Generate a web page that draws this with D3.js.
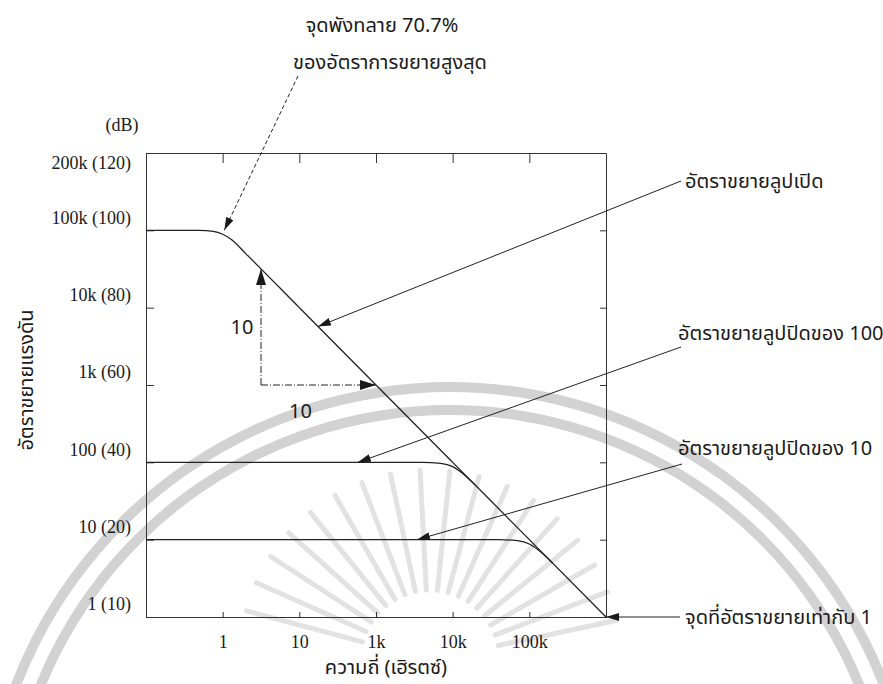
<!DOCTYPE html>
<html>
<head>
<meta charset="utf-8">
<script src="https://cdn.jsdelivr.net/npm/d3@7"></script>
<style>
  html, body { margin: 0; padding: 0; background: #fff; }
  svg { display: block; }
  .num { font-family: "Liberation Serif", "DejaVu Serif", serif; font-size: 18px; fill: #1a1a1a; }
  .th  { font-family: "Noto Sans Thai", "Loma", "Garuda", "Norasi", "DejaVu Sans", sans-serif; font-size: 20px; fill: #1a1a1a; }
  .axis path, .axis line { stroke: #333; stroke-width: 1; }
</style>
</head>
<body>
<svg id="chart" width="883" height="684"></svg>
<script>
// Axis ticks (frequency positions are one decade apart)
const xTicks = [1, 10, 100, 1000, 10000];
const xTickLabels = ["1", "10", "1k", "10k", "100k"];
const yTicks = [1, 10, 100, 1000, 10000, 100000, 1000000];
const yTickLabels = ["1 (10)", "10 (20)", "100 (40)", "1k (60)", "10k (80)", "100k (100)", "200k (120)"];

// Open-loop gain curve
const openLoopFreq = [0.1, 0.5, 0.75, 1, 1.3, 2, 10, 100, 1000, 10000, 100000];
const openLoopGain = [100000, 100000, 97000, 89000, 76000, 50000, 10000, 1000, 100, 10, 1];

// Closed-loop gain of 100
const closed100Freq = [0.1, 400, 700, 1000, 1300, 2000];
const closed100Gain = [100, 100, 97, 88, 74, 50];

// Closed-loop gain of 10
const closed10Freq = [0.1, 4000, 7000, 10000, 13000, 20000];
const closed10Gain = [10, 10, 9.7, 8.8, 7.4, 5];

// Slope triangle: one decade in frequency, one decade in gain
const slopeFreq = [Math.sqrt(10), 100];
const slopeGain = [1000, 31600];
const slopeLabels = ["10", "10"];

// Callouts: label lines and the (frequency, gain) point each arrow points to
const calloutText = [
  ["จุดพังทลาย 70.7%", "ของอัตราการขยายสูงสุด"],
  ["อัตราขยายลูปเปิด"],
  ["อัตราขยายลูปปิดของ 100"],
  ["อัตราขยายลูปปิดของ 10"],
  ["จุดที่อัตราขยายเท่ากับ 1"]
];
const calloutFreq = [1.05, 17.5, 58, 343, 100000];
const calloutGain = [100000, 5700, 100, 10, 1];

const xTitle = "ความถี่ (เฮิรตซ์)";
const yTitle = "อัตราขยายแรงดัน";
const yUnit = "(dB)";

const W = 883, H = 684;
const margin = { top: 153, right: 277, bottom: 67, left: 146 };
const svg = d3.select("#chart");

const x = d3.scaleLog().domain([0.1, 100000]).range([margin.left, W - margin.right]);
const y = d3.scaleLog().domain([1, 1000000]).range([H - margin.bottom, margin.top]);

// Faint background seal: two arcs and a ring of rays
const seal = svg.append("g").attr("fill", "none");
const arcCx = 450, arcCy = 852;
[465, 442].forEach(r => {
  seal.append("path")
    .attr("d", d3.arc().innerRadius(r - 5).outerRadius(r + 5).startAngle(-Math.PI * 0.4).endAngle(Math.PI * 0.4)())
    .attr("transform", `translate(${arcCx},${arcCy})`)
    .attr("fill", "#d2d2d2");
});
const rayCx = 430, rayCy = 660;
d3.range(-165, -10, 9).forEach(a => {
  const t = a * Math.PI / 180;
  seal.append("line")
    .attr("x1", rayCx + 70 * Math.cos(t)).attr("y1", rayCy + 70 * Math.sin(t))
    .attr("x2", rayCx + 190 * Math.cos(t)).attr("y2", rayCy + 190 * Math.sin(t))
    .attr("stroke-width", 5).attr("stroke-linecap", "round").attr("stroke", "#e2e2e2");
});

// Arrowhead markers
const defs = svg.append("defs");
function marker(id, len, wid) {
  defs.append("marker")
    .attr("id", id).attr("markerUnits", "userSpaceOnUse")
    .attr("viewBox", `0 0 ${len} ${wid}`)
    .attr("markerWidth", len).attr("markerHeight", wid)
    .attr("refX", len).attr("refY", wid / 2)
    .attr("orient", "auto")
    .append("path").attr("d", `M0,0L${len},${wid / 2}L0,${wid}Z`).attr("fill", "#1a1a1a");
}
marker("tip", 13, 8);
marker("tipBig", 16, 10);

// Axes forming the frame
svg.append("g").attr("class", "axis num")
  .attr("transform", `translate(0,${H - margin.bottom})`)
  .call(d3.axisBottom(x).tickValues(xTicks).tickFormat((d, i) => xTickLabels[i])
    .tickSizeInner(-5).tickSizeOuter(0).tickPadding(18))
  .call(g => g.selectAll("text").attr("class", "num").attr("fill", null));

svg.append("g").attr("class", "axis")
  .attr("transform", `translate(0,${margin.top})`)
  .call(d3.axisTop(x).tickValues(xTicks).tickFormat("").tickSizeInner(-10).tickSizeOuter(0));

svg.append("g").attr("class", "axis")
  .attr("transform", `translate(${margin.left},0)`)
  .call(d3.axisLeft(y).tickValues(yTicks).tickFormat((d, i) => yTickLabels[i])
    .tickSizeInner(-8).tickSizeOuter(0).tickPadding(15))
  .call(g => g.selectAll("text").attr("class", "num").attr("fill", null)
    .attr("dy", (d, i) => i === yTicks.length - 1 ? "0.85em" : "-0.4em"));

svg.append("g").attr("class", "axis")
  .attr("transform", `translate(${W - margin.right},0)`)
  .call(d3.axisRight(y).tickValues(yTicks).tickFormat("").tickSizeInner(-6).tickSizeOuter(0));

// Titles
svg.append("text").attr("class", "num").attr("x", 122).attr("y", 131)
  .attr("text-anchor", "middle").text(yUnit);
svg.append("text").attr("class", "th").attr("font-size", 21).attr("text-anchor", "middle")
  .attr("transform", `translate(33,380) rotate(-90)`).text(yTitle);
svg.append("text").attr("class", "th").attr("font-size", 17).attr("text-anchor", "middle")
  .attr("x", 386).attr("y", 674).text(xTitle);

// Gain curves
const line = d3.line().x(d => x(d[0])).y(d => y(d[1])).curve(d3.curveMonotoneX);
const curves = [
  d3.zip(openLoopFreq, openLoopGain),
  d3.zip(closed100Freq, closed100Gain),
  d3.zip(closed10Freq, closed10Gain)
];
svg.append("g").selectAll("path").data(curves).join("path")
  .attr("d", line).attr("fill", "none").attr("stroke", "#222").attr("stroke-width", 1.3);

// Slope triangle (dash-dot)
const sx0 = x(slopeFreq[0]), sx1 = x(slopeFreq[1]);
const sy0 = y(slopeGain[0]), sy1 = y(slopeGain[1]);
const tri = svg.append("g").attr("stroke", "#222").attr("stroke-width", 1)
  .attr("stroke-dasharray", "7,2,1,2").attr("fill", "none");
tri.append("line").attr("x1", sx0).attr("y1", sy0).attr("x2", sx0).attr("y2", sy1)
  .attr("marker-end", "url(#tipBig)");
tri.append("line").attr("x1", sx0).attr("y1", sy0).attr("x2", sx1).attr("y2", sy0)
  .attr("marker-end", "url(#tipBig)");
svg.append("text").attr("class", "th").attr("font-size", 16).attr("text-anchor", "middle")
  .attr("x", sx0 - 19).attr("y", (sy0 + sy1) / 2 + 7).text(slopeLabels[0]);
svg.append("text").attr("class", "th").attr("font-size", 16).attr("text-anchor", "middle")
  .attr("x", (sx0 + sx1) / 2 - 18).attr("y", sy0 + 33).text(slopeLabels[1]);

// Callout layout: where each label sits, the width it spans, and where its leader line starts
const calloutLayout = [
  { lines: [[382, 32], [390, 69]], anchor: "middle", size: 17, from: [298, 76], dash: "4,2.5" },
  { lines: [[685, 188]], anchor: "start", size: 20, fit: 140, from: [681, 181] },
  { lines: [[678, 340]], anchor: "start", size: 20, fit: 200, from: [681, 347] },
  { lines: [[678, 455]], anchor: "start", size: 20, fit: 190, from: [682, 464] },
  { lines: [[685, 624]], anchor: "start", size: 20, fit: 194, from: [680, 617] }
];
calloutText.forEach((txt, i) => {
  const L = calloutLayout[i];
  svg.append("line")
    .attr("x1", L.from[0]).attr("y1", L.from[1])
    .attr("x2", x(calloutFreq[i])).attr("y2", y(calloutGain[i]))
    .attr("stroke", "#222").attr("stroke-width", 1)
    .attr("stroke-dasharray", L.dash || null)
    .attr("marker-end", "url(#tip)");
  txt.forEach((t, j) => {
    const el = svg.append("text").attr("class", "th").attr("font-size", L.size).attr("text-anchor", L.anchor)
      .attr("x", L.lines[j][0]).attr("y", L.lines[j][1]).text(t);
    // shrink a label that would run wider than its slot
    if (L.fit) {
      const w = el.node().getComputedTextLength();
      if (w > L.fit) el.attr("font-size", L.size * L.fit / w);
    }
  });
});
</script>
</body>
</html>
